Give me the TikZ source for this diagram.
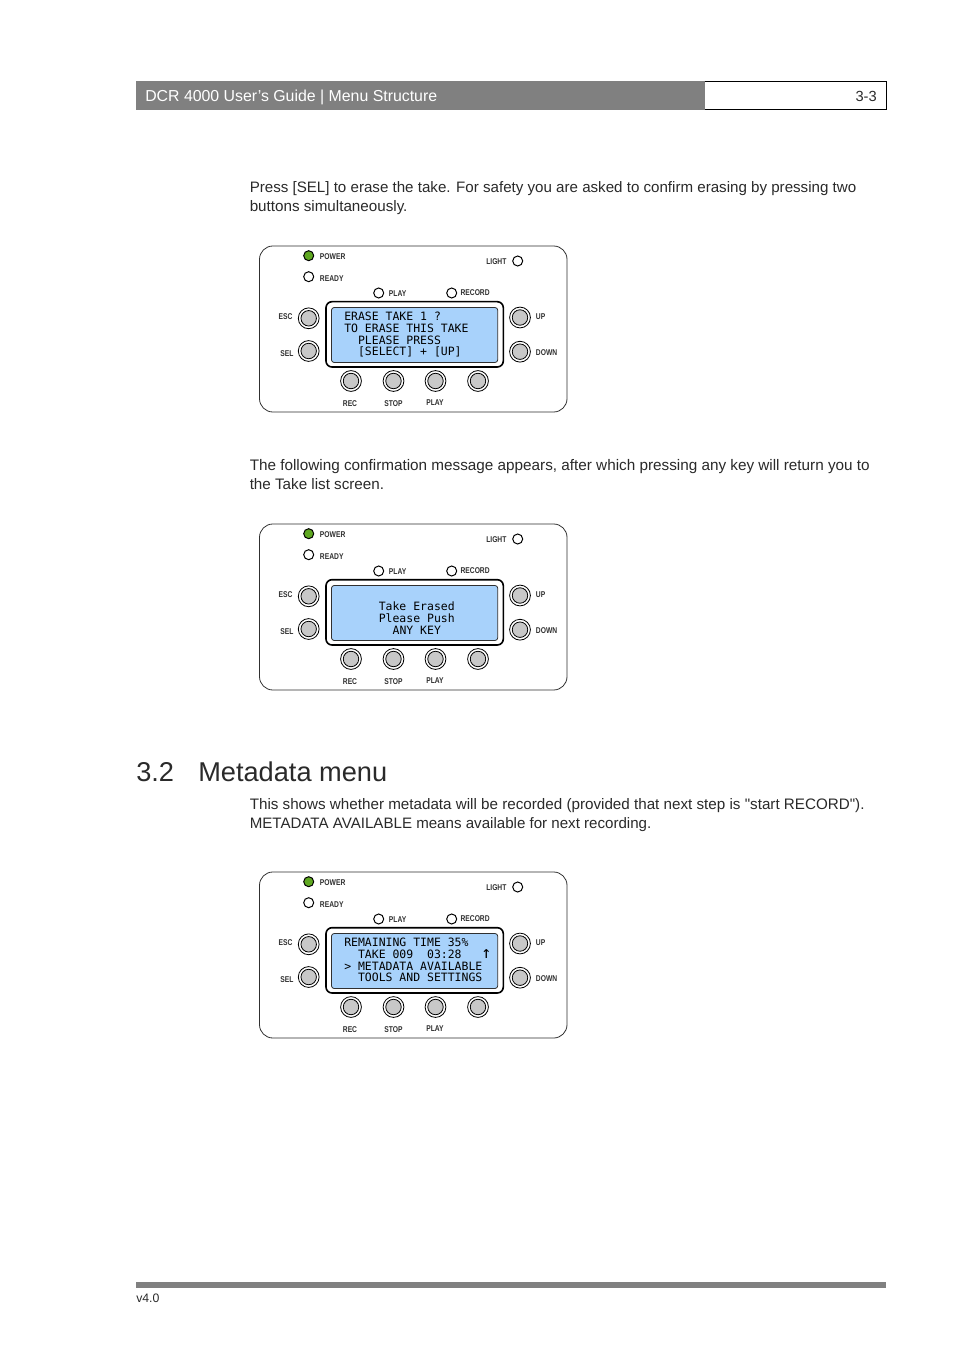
\documentclass[tikz,border=0pt]{standalone}
\usepackage{fontspec}
\setmainfont{Liberation Sans}
\newfontfamily\bodyfont{Liberation Sans}
\newfontfamily\labfont[FakeStretch=0.8]{Liberation Sans}
\newfontfamily\lcdfont{DejaVu Sans Mono}
\newcommand{\bsize}[1]{\fontsize{#1pt}{13pt}\selectfont}
\definecolor{barcol}{HTML}{808080}
\definecolor{inkcol}{HTML}{2A2A2A}
\definecolor{lcdcol}{HTML}{A8D2FB}
\definecolor{btncol}{HTML}{C8C8C8}
\definecolor{ledgreen}{HTML}{5FA821}
\definecolor{edgecol}{HTML}{303030}
\tikzset{
  x=0.75pt,y=-0.75pt,
  body/.style={anchor=base west,inner sep=0,text=inkcol,font=\bodyfont\bsize{11.4}},
  paneltag/.style={inner sep=0,text=edgecol,font=\labfont\bfseries\fontsize{6.3pt}{7pt}\selectfont},
  lcdline/.style={anchor=base west,inner sep=0,text=black,font=\lcdfont\fontsize{8.6pt}{10pt}\selectfont},
  led/.style={circle,draw=black,line width=0.75pt,fill=white,minimum size=7.5pt,inner sep=0},
  btnouter/.style={circle,draw=black,line width=0.6pt,fill=white,minimum size=15.6pt,inner sep=0},
  btninner/.style={circle,draw=black,line width=0.6pt,fill=btncol,minimum size=11.6pt,inner sep=0},
}
\newcommand{\btn}[3]{%
  \node[btnouter] (#1o) at (#2,#3) {};
  \node[btninner] (#1i) at (#2,#3) {};}
\newcommand{\panel}[2]{%
\begin{scope}[shift={(0,#2)}]
  \draw[edgecol,line width=0.6pt,rounded corners=10pt,fill=white] (259.5,246) rectangle (567,412);
  \node[led,fill=ledgreen] (#1power) at (308.7,255.7) {};
  \node[led] (#1ready) at (308.7,276.7) {};
  \node[led] (#1light) at (517.7,261) {};
  \node[led] (#1play) at (378.7,293) {};
  \node[led] (#1rec) at (451.7,293) {};
  \node[paneltag,anchor=west] (#1tpower) at (319.7,256.4) {POWER};
  \node[paneltag,anchor=west] (#1tready) at (319.7,278.2) {READY};
  \node[paneltag,anchor=east] (#1tlight) at (506.7,261.2) {LIGHT};
  \node[paneltag,anchor=west] (#1tplay) at (388.7,293.7) {PLAY};
  \node[paneltag,anchor=west] (#1trec) at (460.3,292.7) {RECORD};
  \node[paneltag,anchor=east] (#1tesc) at (292.7,317) {ESC};
  \node[paneltag,anchor=east] (#1tsel) at (293.7,354) {SEL};
  \node[paneltag,anchor=west] (#1tup) at (535.7,317) {UP};
  \node[paneltag,anchor=west] (#1tdown) at (535.7,352.3) {DOWN};
  \node[paneltag] (#1tbrec) at (350,403.2) {REC};
  \node[paneltag] (#1tbstop) at (393.5,403.2) {STOP};
  \node[paneltag] (#1tbplay) at (435,402.2) {PLAY};
  \btn{#1esc}{308.7}{318.3}
  \btn{#1sel}{308.7}{351}
  \btn{#1up}{520}{317.5}
  \btn{#1down}{520}{351.7}
  \btn{#1ba}{351}{381}
  \btn{#1bb}{393.5}{381}
  \btn{#1bc}{435.5}{381}
  \btn{#1bd}{478}{381}
  \draw[black,line width=1.2pt,rounded corners=4.5pt,fill=white] (326,301.7) rectangle (503.3,367);
  \draw[edgecol,line width=0.6pt,rounded corners=2pt,fill=lcdcol] (331.5,307.5) rectangle (497.7,362.5);
\end{scope}}
\begin{document}
\begin{tikzpicture}
\useasboundingbox (0,0) rectangle (954,1351);
\fill[white] (0,0) rectangle (954,1351);
% header
\fill[barcol] (136,81.5) rectangle (704.5,110);
\draw[black,line width=0.7pt] (704.5,81.5) -- (886.5,81.5) -- (886.5,109.7) -- (704.5,109.7);
\node[anchor=base west,inner sep=0,text=white,font=\bodyfont\bsize{11.9}] (hdr) at (145,101.5) {DCR 4000 User’s Guide | Menu Structure};
\node[anchor=base east,inner sep=0,text=inkcol,font=\bodyfont\bsize{11}] (pg) at (877,101.5) {3-3};
% text
\node[body,font=\bodyfont\bsize{11.34}] (t1) at (249.5,192.7) {Press [SEL] to erase the take. For safety you are asked to confirm erasing by pressing two};
\node[body] (t2) at (249.5,211.7) {buttons simultaneously.};
\node[body,font=\bodyfont\bsize{11.46}] (t3) at (249.5,470) {The following confirmation message appears, after which pressing any key will return you to};
\node[body] (t4) at (249.5,489) {the Take list screen.};
\node[anchor=base west,inner sep=0,text=inkcol,font=\bodyfont\bsize{20.4}] (h1) at (136,781) {3.2};
\node[anchor=base west,inner sep=0,text=inkcol,font=\bodyfont\bsize{20.4}] (h2) at (198,781) {Metadata menu};
\node[body] (t5) at (249.5,809) {This shows whether metadata will be recorded (provided that next step is "start RECORD").};
\node[body,font=\bodyfont\bsize{11.33}] (t6) at (249.5,828) {METADATA AVAILABLE means available for next recording.};
% panels
\panel{a}{0}
\node[lcdline] (a1) at (344,321) {ERASE~TAKE~1~?};
\node[lcdline] (a2) at (344,333) {TO~ERASE~THIS~TAKE};
\node[lcdline] (a3) at (344,344.2) {~~PLEASE~PRESS};
\node[lcdline] (a4) at (344,356) {~~[SELECT]~+~[UP]};
\panel{b}{278}
\node[lcdline] (b1) at (344,610) {~~~~~Take~Erased};
\node[lcdline] (b2) at (344,622) {~~~~~Please~Push};
\node[lcdline] (b3) at (344,634.3) {~~~~~~~ANY~KEY};
\panel{c}{626}
\node[lcdline] (c1) at (344,946.5) {REMAINING~TIME~35\%};
\node[lcdline] (c2) at (344,958.3) {~~TAKE~009~~03:28~~~\kern-0.8pt{\fontsize{12.5pt}{10pt}\selectfont ↑}};
\node[lcdline] (c3) at (344,970) {>~METADATA~AVAILABLE};
\node[lcdline] (c4) at (344,981.7) {~~TOOLS~AND~SETTINGS};
% footer
\fill[barcol] (136,1282) rectangle (886,1288);
\node[anchor=base west,inner sep=0,text=inkcol,font=\bodyfont\bsize{9.2}] (ver) at (136,1302) {v4.0};
\end{tikzpicture}
\end{document}
